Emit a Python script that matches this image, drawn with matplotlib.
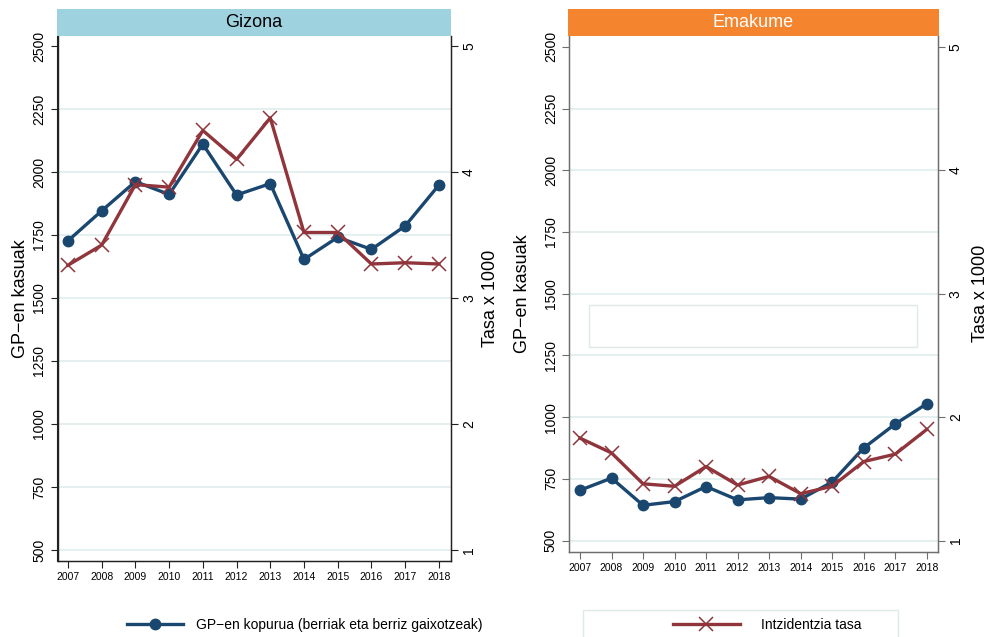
import matplotlib
matplotlib.use("Agg")
import matplotlib.pyplot as plt
from matplotlib.lines import Line2D
from matplotlib.patches import Rectangle

plt.rcParams['font.family'] = ['Liberation Sans', 'DejaVu Sans']

# data
years = [2007, 2008, 2009, 2010, 2011, 2012, 2013, 2014, 2015, 2016, 2017, 2018]
gp_gizona = [1727, 1846, 1962, 1911, 2111, 1909, 1954, 1653, 1741, 1693, 1786, 1948]
tasa_gizona = [3.26, 3.42, 3.90, 3.88, 4.33, 4.10, 4.43, 3.52, 3.52, 3.27, 3.28, 3.27]
gp_emakume = [704, 753, 643, 658, 719, 665, 674, 668, 737, 875, 972, 1054]
tasa_emakume = [1.83, 1.71, 1.46, 1.44, 1.60, 1.45, 1.52, 1.38, 1.44, 1.64, 1.70, 1.90]

gp_ticks = [500, 750, 1000, 1250, 1500, 1750, 2000, 2250, 2500]
tasa_ticks = [1, 2, 3, 4, 5]
panel_titles = ["Gizona", "Emakume"]
legend_labels = ["GP\u2212en kopurua (berriak eta berriz gaixotzeak)", "Intzidentzia tasa"]

navy = '#1a476f'
maroon = '#90353b'
grid_col = '#e2eeee'

W, H = 988, 637
fig = plt.figure(figsize=(W / 100, H / 100), dpi=100)

def fx(px):
    return px / W

def fy(py):
    return 1 - py / H

# (left, right, top, bottom) in pixels, ylim, xlim, strip box, colours
panels = [
    dict(box=(57.5, 451, 36, 561), ylim=(456, 2540), xlim=(2006.69, 2018.36),
         strip=(57, 451, 9.3, 36), strip_col='#9ed2df', title_col='black',
         spine='#222222', gp=gp_gizona, tasa=tasa_gizona,
         ylab_x=-0.073, rlab_x=1.078),
    dict(box=(569, 937.7, 35.7, 551.7), ylim=(455, 2545), xlim=(2006.65, 2018.35),
         strip=(568, 939, 9.3, 35.7), strip_col='#f4842e', title_col='white',
         spine='#6e6e6e', gp=gp_emakume, tasa=tasa_emakume,
         ylab_x=-0.104, rlab_x=1.092),
]

for p, title in zip(panels, panel_titles):
    l, r, t, b = p['box']
    ax = fig.add_axes([fx(l), fy(b), fx(r - l), (b - t) / H])
    ax.plot(years, p['gp'], color=navy, lw=2.4, marker='o', ms=7.5, zorder=3)
    ax.set_xlim(*p['xlim'])
    ax.set_ylim(*p['ylim'])
    ax.set_yticks(gp_ticks)
    ax.set_xticks(years)
    ax.tick_params(axis='x', labelsize=7.5, length=5, pad=3, color=p['spine'])
    ax.tick_params(axis='y', labelsize=10, length=5, pad=3, labelrotation=90, color=p['spine'])
    for lab in ax.get_yticklabels():
        lab.set_va('center')
    ax.grid(axis='y', color=grid_col, lw=1.3)
    ax.yaxis.get_gridlines()[-1].set_visible(False)
    ax.set_axisbelow(True)
    ax.spines['top'].set_visible(False)
    for s in ['left', 'right', 'bottom']:
        ax.spines[s].set_color(p['spine'])
        ax.spines[s].set_linewidth(1.0)
    ax.set_ylabel("GP\u2212en kasuak", fontsize=13)
    ax.yaxis.set_label_coords(p['ylab_x'], 0.5)

    ax2 = ax.twinx()
    ax2.plot(years, p['tasa'], color=maroon, lw=2.4, marker='x', ms=10, mew=1.1, zorder=3)
    ax2.set_ylim(p['ylim'][0] / 500, p['ylim'][1] / 500)
    ax2.set_yticks(tasa_ticks)
    ax2.tick_params(axis='y', labelsize=10, length=5, pad=3, labelrotation=90, color=p['spine'])
    for lab in ax2.get_yticklabels():
        lab.set_va('center')
    ax2.spines['top'].set_visible(False)
    for s in ['left', 'right', 'bottom']:
        ax2.spines[s].set_color(p['spine'])
    ax2.set_ylabel("Tasa x 1000", fontsize=13, rotation=90)
    ax2.yaxis.set_label_coords(p['rlab_x'], 0.5)

    sl, sr, st, sb = p['strip']
    sax = fig.add_axes([fx(sl), fy(sb), fx(sr - sl), (sb - st) / H])
    sax.set_facecolor(p['strip_col'])
    sax.set_xticks([])
    sax.set_yticks([])
    for s in sax.spines.values():
        s.set_visible(False)
    sax.text(0.5, 0.5, title, ha='center', va='center', fontsize=13,
             color=p['title_col'], transform=sax.transAxes)

# faint empty box in the right panel
fig.patches.append(Rectangle((fx(589), fy(347)), fx(917 - 589), (347 - 305) / H,
                             transform=fig.transFigure, fill=False,
                             edgecolor='#dfeaea', lw=1.0))
# legend frame at bottom right
fig.patches.append(Rectangle((fx(583), fy(640)), fx(898 - 583), (640 - 610) / H,
                             transform=fig.transFigure, fill=False,
                             edgecolor='#dfeaea', lw=1.0))

h1 = Line2D([], [], color=navy, lw=2.4, marker='o', ms=7.5)
h2 = Line2D([], [], color=maroon, lw=2.4, marker='x', ms=10, mew=1.1)
fig.legend(handles=[h1], labels=[legend_labels[0]], loc='center left',
           bbox_to_anchor=(fx(127), fy(625)), frameon=False, fontsize=10,
           handlelength=4.0, handletextpad=1.0, borderpad=0, borderaxespad=0,
           numpoints=1)
fig.legend(handles=[h2], labels=[legend_labels[1]], loc='center left',
           bbox_to_anchor=(fx(673), fy(625)), frameon=False, fontsize=10,
           handlelength=4.8, handletextpad=1.55, borderpad=0, borderaxespad=0,
           numpoints=1)

fig.savefig("out.png", dpi=100)
